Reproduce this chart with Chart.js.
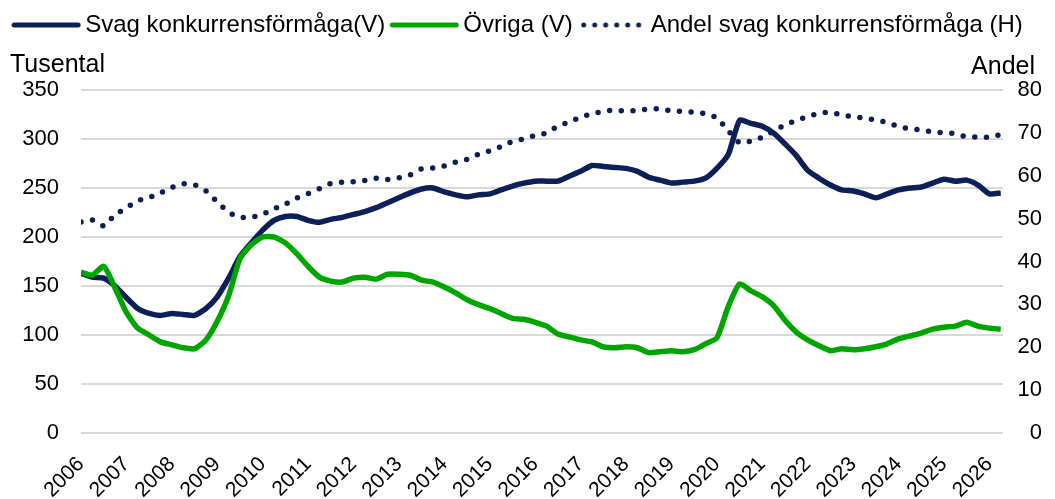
<!DOCTYPE html>
<html lang="sv">
<head>
    <meta charset="UTF-8">
    <title>Svag konkurrensförmåga</title>
    <style>
        html, body { margin: 0; padding: 0; background: #fff; }
        #wrap { width: 1055px; height: 499px; position: relative; }
    </style>
</head>
<body>
    <div id="wrap"><canvas id="myChart"></canvas></div>

    <script src="https://cdn.jsdelivr.net/npm/chart.js@4.4.1/dist/chart.umd.min.js"></script>
    <script>
        // quarterly observations, 2006 Q1 .. 2026 Q2
        var quarters = [];
        for (var k = 0; k < 82; k++) quarters.push(2006 + k / 4);

        var years = [2006, 2007, 2008, 2009, 2010, 2011, 2012, 2013, 2014, 2015, 2016,
            2017, 2018, 2019, 2020, 2021, 2022, 2023, 2024, 2025, 2026];

        // Tusental (V)
        var svag = [163, 159, 158, 150, 138, 127, 122, 120, 122, 121, 120, 127, 139, 158, 180, 194,
            207, 217, 221, 221, 217, 215, 218, 220, 223, 226, 230, 235, 240, 245, 249, 250,
            246, 243, 241, 243, 244, 248, 252, 255, 257, 257, 257, 262, 267, 273, 272, 271,
            270, 267, 261, 258, 255, 256, 257, 260, 270, 284, 319, 316, 313, 306, 295, 283,
            268, 260, 253, 248, 247, 244, 240, 244, 248, 250, 251, 255, 259, 257, 258, 253,
            244, 245];

        var ovriga = [164, 161, 170, 148, 123, 107, 100, 93, 90, 87, 86, 95, 114, 140, 178, 192,
            200, 200, 194, 183, 170, 159, 155, 154, 158, 159, 157, 162, 162, 161, 156, 154,
            149, 143, 136, 131, 127, 122, 117, 116, 113, 109, 101, 98, 95, 93, 88, 87,
            88, 87, 82, 83, 84, 83, 85, 91, 97, 129, 152, 145, 139, 130, 115, 103,
            95, 89, 84, 86, 85, 86, 88, 91, 96, 99, 102, 106, 108, 109, 113, 109,
            107, 106];

        // Andel, procent (H)
        var andel = [49.2, 49.7, 48.3, 50.9, 52.5, 54.2, 54.9, 56.0, 57.3, 58.1, 57.9, 56.5, 53.9, 51.5, 50.3, 50.3,
            51.0, 52.3, 53.4, 54.8, 55.8, 57.0, 58.2, 58.5, 58.6, 58.9, 59.4, 59.1, 59.5, 60.2, 61.6, 61.8,
            62.3, 63.2, 63.8, 65.0, 65.8, 66.8, 68.0, 68.6, 69.4, 70.0, 71.6, 72.5, 73.7, 74.4, 75.0, 75.3,
            75.1, 75.2, 75.6, 75.6, 75.1, 75.0, 74.8, 74.5, 73.5, 70.5, 67.7, 68.1, 69.0, 70.4, 71.9, 72.9,
            73.8, 74.6, 74.8, 74.2, 73.8, 73.4, 73.0, 72.4, 71.5, 70.9, 70.7, 70.2, 70.0, 69.8, 69.1, 69.0,
            69.0, 69.6];

        var navy = '#0c1f58';
        var green = '#00a600';
        var font = "'Liberation Sans', Arial, sans-serif";

        function pts(arr) {
            return quarters.map(function (q, i) { return { x: q, y: arr[i] }; });
        }

        // little line samples for the legend (the built-in one ignores the dash)
        function sample(color, w, dotted) {
            var c = document.createElement('canvas');
            c.width = w;
            c.height = 8;
            var g = c.getContext('2d');
            g.strokeStyle = color;
            g.lineWidth = 5;
            g.lineCap = 'round';
            if (dotted) g.setLineDash([0, 11]);
            g.beginPath();
            g.moveTo(3, 4);
            g.lineTo(w - 3, 4);
            g.stroke();
            return c;
        }

        // legend sits at the very top, the axis captions go between it and the plot
        var topRow = {
            id: 'topRow',
            afterLayout: function (chart) {
                var lg = chart.legend;
                var h = lg.bottom - lg.top;
                lg.top = 1;
                lg.bottom = 1 + h;
            },
            afterDraw: function (chart) {
                var ctx = chart.ctx;
                ctx.save();
                ctx.fillStyle = '#000';
                ctx.font = '25px ' + font;
                ctx.textBaseline = 'alphabetic';
                ctx.textAlign = 'left';
                ctx.fillText('Tusental', 10, 72);
                ctx.textAlign = 'right';
                ctx.fillText('Andel', 1035, 74);
                ctx.restore();
            }
        };

        var ctx = document.getElementById('myChart');
        var myChart = new Chart(ctx, {
            type: 'line',
            data: {
                datasets: [{
                    label: 'Svag konkurrensförmåga(V)',
                    data: pts(svag),
                    borderColor: navy,
                    backgroundColor: navy,
                    borderWidth: 5.5,
                    pointStyle: sample(navy, 70, false),
                    yAxisID: 'y',
                    order: 2
                }, {
                    label: 'Övriga (V)',
                    data: pts(ovriga),
                    borderColor: green,
                    backgroundColor: green,
                    borderWidth: 5.5,
                    pointStyle: sample(green, 70, false),
                    yAxisID: 'y',
                    order: 1
                }, {
                    label: 'Andel svag konkurrensförmåga (H)',
                    data: pts(andel),
                    borderColor: navy,
                    backgroundColor: navy,
                    borderWidth: 5.5,
                    borderDash: [0, 11.7],
                    borderCapStyle: 'round',
                    pointStyle: sample(navy, 62, true),
                    yAxisID: 'y1',
                    order: 0
                }]
            },
            options: {
                responsive: true,
                maintainAspectRatio: false,
                animation: false,
                layout: { padding: { top: 44, left: 0, right: 13, bottom: 0 } },
                elements: {
                    point: { radius: 0, hoverRadius: 0 },
                    line: { tension: 0.2, fill: false }
                },
                plugins: {
                    tooltip: { enabled: false },
                    legend: {
                        position: 'top',
                        labels: {
                            usePointStyle: true,
                            pointStyleWidth: 54,
                            boxHeight: 5,
                            padding: 12,
                            color: '#000',
                            font: { family: font, size: 24 },
                            sort: function (a, b) { return a.datasetIndex - b.datasetIndex; }
                        }
                    }
                },
                scales: {
                    x: {
                        type: 'linear',
                        min: 2006,
                        max: 2026.3,
                        grid: { display: false },
                        border: { display: false },
                        afterBuildTicks: function (scale) {
                            scale.ticks = years.map(function (y) { return { value: y }; });
                        },
                        afterFit: function (scale) { scale.height = 66; },
                        ticks: {
                            autoSkip: false,
                            maxRotation: 45,
                            minRotation: 45,
                            padding: 11,
                            color: '#000',
                            font: { family: font, size: 21 },
                            callback: function (v) { return String(v); }
                        }
                    },
                    y: {
                        position: 'left',
                        min: 0,
                        max: 350,
                        grid: { color: '#d9d9d9', lineWidth: 2, drawTicks: false },
                        border: { display: false },
                        afterFit: function (scale) { scale.width = 81; },
                        ticks: {
                            stepSize: 50,
                            padding: 22,
                            color: '#000',
                            font: { family: font, size: 22 }
                        }
                    },
                    y1: {
                        position: 'right',
                        min: 0,
                        max: 80,
                        grid: { display: false, drawTicks: false },
                        border: { display: false },
                        afterFit: function (scale) { scale.width = 39; },
                        ticks: {
                            stepSize: 10,
                            padding: 10,
                            crossAlign: 'far',
                            color: '#000',
                            font: { family: font, size: 22 }
                        }
                    }
                }
            },
            plugins: [topRow]
        });
    </script>
</body>
</html>
